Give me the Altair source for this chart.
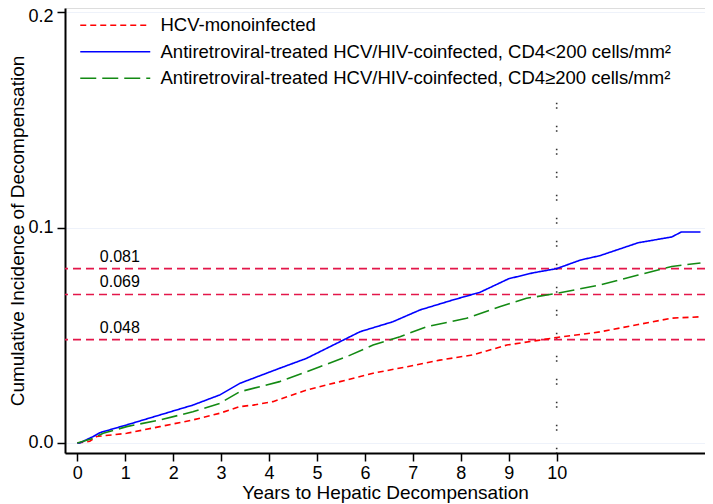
import altair as alt
import pandas as pd

# ---- data ----
series_names = [
    "HCV-monoinfected",
    "Antiretroviral-treated HCV/HIV-coinfected, CD4<200 cells/mm²",
    "Antiretroviral-treated HCV/HIV-coinfected, CD4≥200 cells/mm²",
]
series_colors = ["#ff0000", "#0000ff", "#138a13"]

red_years = [0, 0.26, 0.4, 1.03, 1.72, 2.41, 2.97, 3.39, 3.67, 4.08, 4.78, 5.48, 6.17,
             6.87, 7.56, 8.25, 8.96, 9.65, 10.0, 10.9, 11.7, 12.4, 13.0]
red_vals = [0, 0.0008, 0.003, 0.0045, 0.0076, 0.0107, 0.0138, 0.0169, 0.0176, 0.0192,
            0.0246, 0.0285, 0.0324, 0.0354, 0.0385, 0.0409, 0.0455, 0.0478, 0.049,
            0.0516, 0.055, 0.058, 0.0586]

blue_years = [0, 0.05, 0.33, 0.47, 1.03, 1.72, 2.41, 2.97, 3.39, 4.22, 4.78, 5.34, 5.9,
              6.58, 7.15, 7.83, 8.4, 9.0, 9.5, 10.0, 10.5, 10.9, 11.7, 12.4, 12.6, 13.0]
blue_vals = [0, 0, 0.003, 0.0048, 0.0084, 0.013, 0.0176, 0.0223, 0.0277, 0.0347, 0.0393,
             0.0455, 0.0517, 0.0563, 0.0618, 0.0664, 0.070, 0.0763, 0.079, 0.081, 0.085,
             0.087, 0.093, 0.0957, 0.098, 0.098]

green_years = [0, 0.33, 0.54, 1.03, 1.72, 2.41, 2.97, 3.39, 4.22, 5.06, 5.62, 6.17, 6.73,
               7.29, 8.12, 8.81, 9.37, 10.0, 10.9, 11.7, 12.4, 13.0]
green_vals = [0, 0.0022, 0.0045, 0.0076, 0.0107, 0.0145, 0.0184, 0.0238, 0.0285, 0.0354,
              0.0401, 0.0455, 0.0494, 0.054, 0.0579, 0.0633, 0.0672, 0.0695, 0.0734,
              0.078, 0.082, 0.0836]

ref_values = [0.081, 0.069, 0.048]
ref_labels = ["0.081", "0.069", "0.048"]
ref_label_x = 0.47

x_ticks = list(range(0, 11))
y_ticks = [0.0, 0.1, 0.2]
x_domain = [-0.2566, 13.094]
y_domain = [-0.004645, 0.20204]

vline_x = 10
vline_top = 0.158

FONT = "Liberation Sans"

rows = []
for name, yrs, vals in zip(series_names, [red_years, blue_years, green_years],
                           [red_vals, blue_vals, green_vals]):
    for t, v in zip(yrs, vals):
        rows.append({"series": name, "year": t, "value": v})
curves = pd.DataFrame(rows)

refs = pd.DataFrame({"value": ref_values, "label": ref_labels,
                     "x": [ref_label_x] * len(ref_values)})
vline = pd.DataFrame({"x": [vline_x], "y": [vline_top], "y2": [y_domain[0]]})

xscale = alt.Scale(domain=x_domain, nice=False, zero=False)
yscale = alt.Scale(domain=y_domain, nice=False, zero=False)

lines = alt.Chart(curves).mark_line(strokeWidth=1.6, clip=True).encode(
    x=alt.X("year:Q", scale=xscale,
            axis=alt.Axis(title="Years to Hepatic Decompensation", values=x_ticks,
                          grid=False, tickSize=8, tickColor="black", tickWidth=1.5,
                          domainColor="black", domainWidth=2, labelPadding=3,
                          labelFontSize=18, titleFontSize=19, titlePadding=1,
                          labelFont=FONT, titleFont=FONT, titleFontWeight="normal",
                          labelColor="black", titleColor="black")),
    y=alt.Y("value:Q", scale=yscale,
            axis=alt.Axis(title="Cumulative Incidence of Decompensation", values=y_ticks,
                          format=".1f", grid=True, gridColor="#eef2fa", gridWidth=1.2,
                          tickSize=8, tickColor="black", tickWidth=1.5,
                          domainColor="black", domainWidth=2, labelPadding=4,
                          labelOffset={"condition": {"test": "datum.value >= 0.19", "value": 4},
                                       "value": 0},
                          labelFontSize=18, titleFontSize=19, titlePadding=0,
                          labelFont=FONT, titleFont=FONT, titleFontWeight="normal",
                          labelColor="black", titleColor="black")),
    color=alt.Color("series:N",
                    scale=alt.Scale(domain=series_names, range=series_colors),
                    legend=alt.Legend(title=None, orient="none", legendX=41, legendY=8,
                                      symbolType="M-5,0H5", symbolSize=196,
                                      symbolStrokeWidth=1.6, labelFontSize=18.5,
                                      labelFont=FONT, labelColor="black",
                                      labelOffset=36, rowPadding=7.5,
                                      labelLimit=700)),
    strokeDash=alt.StrokeDash("series:N",
                              scale=alt.Scale(domain=series_names,
                                              range=[[6, 4], [1, 0], [16, 6]]),
                              legend=None),
)

ref_rules = alt.Chart(refs).mark_rule(color="#e3174a", strokeWidth=1.6,
                                      strokeDash=[8, 5]).encode(
    y=alt.Y("value:Q", scale=yscale)
)

ref_text = alt.Chart(refs).mark_text(align="left", baseline="middle", dy=-12,
                                     fontSize=16, font=FONT, color="black").encode(
    x=alt.X("x:Q", scale=xscale),
    y=alt.Y("value:Q", scale=yscale),
    text="label:N",
)

vrule = alt.Chart(vline).mark_rule(color="#333333", strokeWidth=1.6,
                                   strokeDash=[1.5, 3, 1.5, 17]).encode(
    x=alt.X("x:Q", scale=xscale),
    y=alt.Y("y:Q", scale=yscale),
    y2="y2:Q",
)

chart = alt.layer(ref_rules, vrule, lines, ref_text).properties(
    width=640, height=445,
    autosize=alt.AutoSizeParams(type="none"),
    padding={"left": 57, "top": 0, "right": 0, "bottom": 51},
).configure_view(stroke=None).configure(background="white")

chart.save("out.html", embed_options={"renderer": "svg", "actions": False})
